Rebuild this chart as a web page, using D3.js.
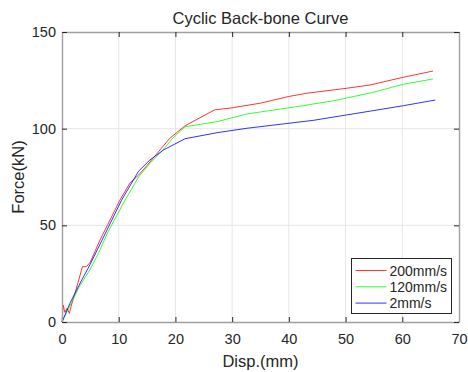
<!DOCTYPE html>
<html>
<head>
<meta charset="utf-8">
<script src="https://cdn.jsdelivr.net/npm/d3@7/dist/d3.min.js"></script>
<style>
    body { margin: 0; background: #fff; }
    text { font-family: "Liberation Sans", Arial, sans-serif; fill: #262626; }
</style>
</head>
<body>
<div id="chart"></div>
<script>
// series
var redX = [0, 0.2, 0.5, 0.9, 1.3, 1.6, 2.5, 3.6, 4.3, 5, 6.7, 8, 10.2, 12, 13.5, 15, 17, 19, 21.7, 26.9, 30, 35, 39.9, 43.1, 50.2, 54.3, 60.2, 65.4];
var redY = [0, 8.8, 5, 7, 4.5, 8, 17, 28.6, 28.6, 31, 42.4, 50, 63, 72, 76, 81, 88, 95, 101.5, 109.7, 110.8, 113.2, 116.6, 118.3, 120.9, 122.6, 126.6, 129.8];
var greenX = [0, 0.5, 1, 2, 3, 4.9, 6.5, 8, 11.1, 13.5, 15.5, 17.5, 19.5, 21.7, 27.3, 32.6, 41.4, 48, 54.6, 60.2, 65.4];
var greenY = [0, 3, 6, 12, 18, 26.9, 36, 46, 63, 75, 82, 88, 95, 101, 103.6, 107.6, 111.4, 114.5, 118.6, 123, 125.7];
var blueX = [0, 1.4, 3, 5, 7, 10.5, 13.5, 15.5, 17.9, 21.7, 27.3, 32.6, 44.3, 54.6, 60.2, 65.8];
var blueY = [0, 9.7, 19, 30, 42, 63, 78, 83.8, 89, 94.8, 97.9, 100.2, 104.3, 109.2, 111.9, 114.8];

var seriesNames = ["200mm/s", "120mm/s", "2mm/s"];
var seriesColors = ["#ff0000", "#00ff00", "#0000ff"];
var xTicks = [0, 10, 20, 30, 40, 50, 60, 70];
var yTicks = [0, 50, 100, 150];

var W = 468, H = 372;
var m = { left: 62, right: 9, top: 32, bottom: 50 };

var svg = d3.select("#chart").append("svg")
    .attr("width", W)
    .attr("height", H);

var x = d3.scaleLinear().domain([0, 70]).range([m.left, W - m.right]);
var y = d3.scaleLinear().domain([0, 150]).range([H - m.bottom, m.top]);

//  Grid  ---
svg.append("g")
    .selectAll("line").data(xTicks.slice(1, -1)).enter().append("line")
    .attr("x1", function (d) { return x(d); }).attr("x2", function (d) { return x(d); })
    .attr("y1", y(0)).attr("y2", y(150))
    .attr("stroke", "#e6e6e6").attr("stroke-width", 1);
svg.append("g")
    .selectAll("line").data(yTicks.slice(1, -1)).enter().append("line")
    .attr("x1", x(0)).attr("x2", x(70))
    .attr("y1", function (d) { return y(d); }).attr("y2", function (d) { return y(d); })
    .attr("stroke", "#e6e6e6").attr("stroke-width", 1);

//  Lines  ---
var data = [d3.zip(redX, redY), d3.zip(greenX, greenY), d3.zip(blueX, blueY)];
var line = d3.line()
    .x(function (d) { return x(d[0]); })
    .y(function (d) { return y(d[1]); });

svg.append("g").selectAll("path").data(data).enter().append("path")
    .attr("d", line)
    .attr("fill", "none")
    .attr("stroke", function (d, i) { return seriesColors[i]; })
    .attr("stroke-width", 1)
    .attr("opacity", 0.8);

//  Axes  ---
function styleAxis(g) {
    g.select(".domain").attr("stroke", "#a0a0a0").attr("stroke-width", 1.4);
    g.selectAll(".tick line").attr("stroke", "#262626");
    g.selectAll(".tick text").style("font-size", "14.5px").attr("fill", "#262626");
}
svg.append("g")
    .attr("transform", "translate(0," + y(0) + ")")
    .call(d3.axisBottom(x).tickValues(xTicks).tickSizeInner(-5).tickSizeOuter(0).tickPadding(12))
    .call(styleAxis);
svg.append("g")
    .attr("transform", "translate(0," + y(150) + ")")
    .call(d3.axisTop(x).tickValues(xTicks).tickSizeInner(-5).tickSizeOuter(0).tickFormat(""))
    .call(styleAxis);
svg.append("g")
    .attr("transform", "translate(" + x(0) + ",0)")
    .call(d3.axisLeft(y).tickValues(yTicks).tickSizeInner(-5).tickSizeOuter(0).tickPadding(6))
    .call(styleAxis);
svg.append("g")
    .attr("transform", "translate(" + x(70) + ",0)")
    .call(d3.axisRight(y).tickValues(yTicks).tickSizeInner(-5).tickSizeOuter(0).tickFormat(""))
    .call(styleAxis);

//  Labels  ---
svg.append("text")
    .attr("x", (x(0) + x(70)) / 2).attr("y", 24)
    .attr("text-anchor", "middle")
    .style("font-size", "16.5px")
    .text("Cyclic Back-bone Curve");
svg.append("text")
    .attr("x", (x(0) + x(70)) / 2).attr("y", 367)
    .attr("text-anchor", "middle")
    .style("font-size", "16.5px")
    .text("Disp.(mm)");
svg.append("text")
    .attr("transform", "translate(24," + (y(75)) + ") rotate(-90)")
    .attr("text-anchor", "middle")
    .style("font-size", "16.5px")
    .text("Force(kN)");

//  Legend  ---
var legend = svg.append("g").attr("transform", "translate(351.5,258.5)");
legend.append("rect")
    .attr("width", 100).attr("height", 55)
    .attr("fill", "#fff").attr("stroke", "#262626").attr("stroke-width", 1);
var item = legend.selectAll(".item").data(seriesNames).enter().append("g")
    .attr("class", "item")
    .attr("transform", function (d, i) { return "translate(0," + (12 + i * 16.3) + ")"; });
item.append("line")
    .attr("x1", 4).attr("x2", 35)
    .attr("stroke", function (d, i) { return seriesColors[i]; })
    .attr("opacity", 0.8);
item.append("text")
    .attr("x", 38).attr("y", 5)
    .style("font-size", "14px")
    .text(function (d) { return d; });
</script>
</body>
</html>
